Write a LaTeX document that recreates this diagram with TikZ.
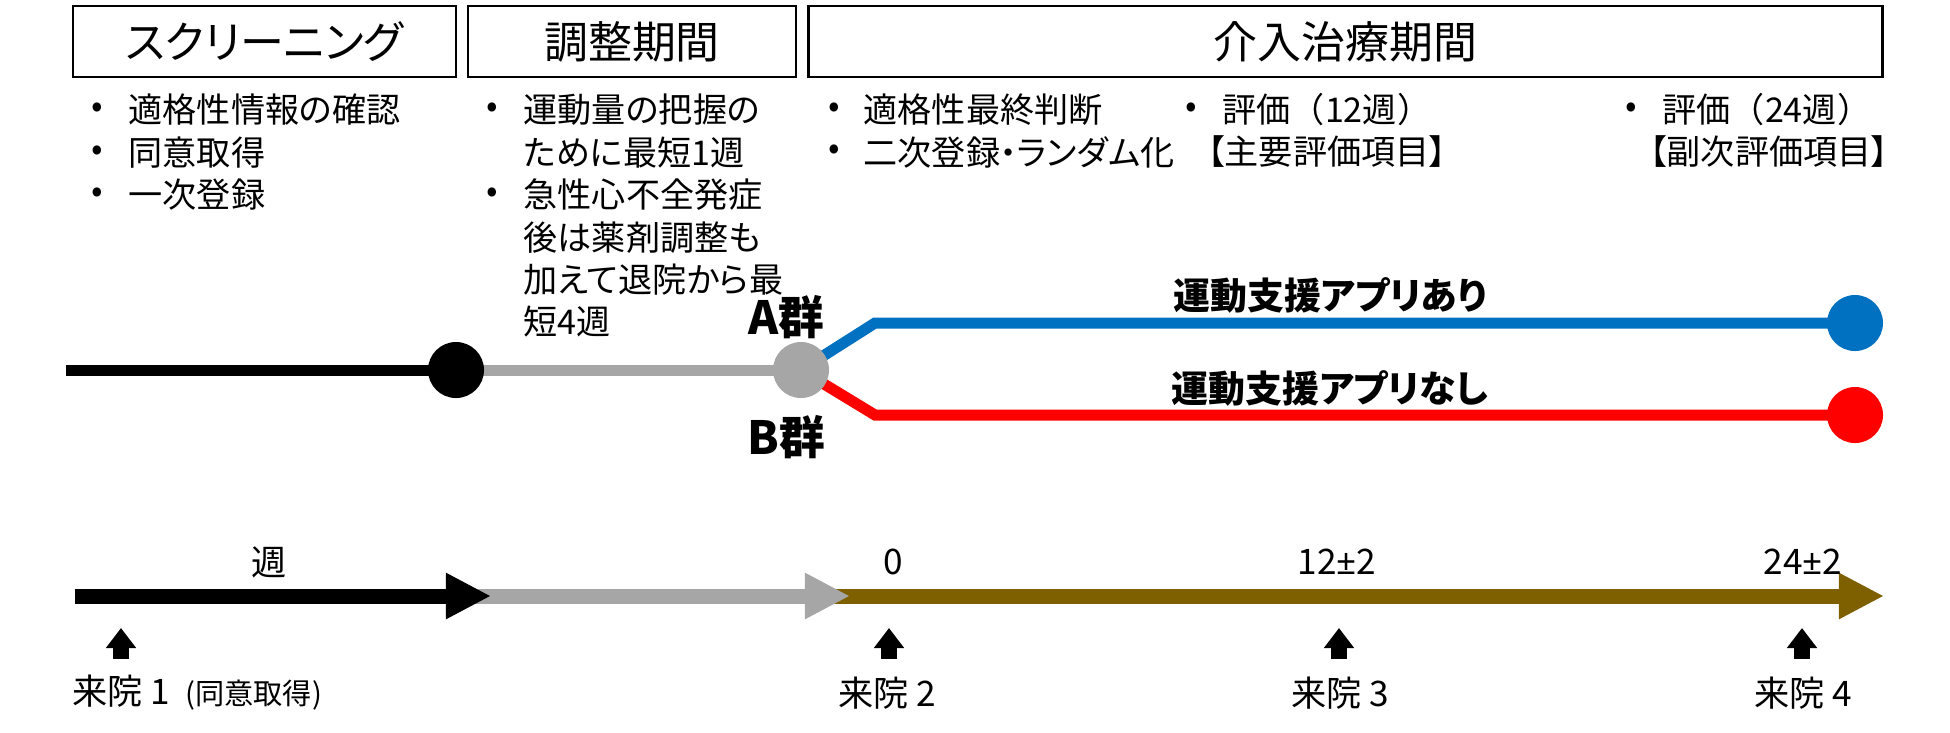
\documentclass[tikz,border=0pt]{standalone}
\usepackage{fontspec}
\setmainfont{Noto Sans CJK JP}[RawFeature=+palt]
\newfontfamily\jpfull{Noto Sans CJK JP}
\newfontfamily\latinfont{Noto Sans}
\usetikzlibrary{arrows.meta, backgrounds}
\definecolor{grpblue}{HTML}{0070C0}
\definecolor{grpred}{HTML}{FF0000}
\definecolor{prepgray}{HTML}{A6A6A6}
\definecolor{txbrown}{HTML}{7F6000}

\tikzset{
  phasebox/.style={draw, line width=0.7pt, minimum height=7.1mm, inner sep=0pt, font=\fontsize{12.5}{15}\selectfont},
  bul/.style={inner sep=0pt, font=\fontsize{9.7}{12}\selectfont},
  itemtext/.style={anchor=west, inner sep=0pt, font=\fontsize{9.7}{12}\selectfont},
  tlline/.style={line width=1.1mm},
  milestone/.style={circle, minimum size=5.6mm, inner sep=0pt},
  grplabel/.style={inner sep=0pt, font=\fontsize{13}{15}\selectfont\bfseries},
  armlabel/.style={inner sep=0pt, font=\fontsize{10.5}{12}\selectfont\bfseries},
  weektick/.style={inner sep=0pt, font=\fontsize{10}{12}\selectfont},
  weekbar/.style={line width=1.5mm, -{Triangle[length=4.5mm, width=4.3mm]}},
  visit/.style={line width=1.6mm, -{Triangle[length=2mm, width=2.9mm]}},
}

\begin{document}
\begin{tikzpicture}[x=0.01cm, y=-0.01cm]
\useasboundingbox (0,0) rectangle (1950,732);

% Phase boxes
\node[phasebox, minimum width=38.3mm] (scr) at (264.5,41.5) {スクリーニング};
\node[phasebox, minimum width=32.8mm] (adj) at (632,41.5) {調整期間};
\node[phasebox, minimum width=107.3mm] (itv) at (1345.5,41.5) {介入治療期間};

% Screening items
\node[bul] (scrb1) at (97,110) {•};
\node[itemtext] (scr1) at (128,110) {適格性情報の確認};
\node[bul] (scrb2) at (97,153) {•};
\node[itemtext] (scr2) at (128,153) {同意取得};
\node[bul] (scrb3) at (97,195) {•};
\node[itemtext] (scr3) at (128,195) {一次登録};

% Adjustment items
\node[bul] (adjb1) at (492,110) {•};
\node[itemtext] (adj1) at (523,110) {運動量の把握の};
\node[itemtext] (adj2) at (523,153) {ために最短1週};
\node[bul] (adjb2) at (492,195) {•};
\node[itemtext] (adj3) at (523,195) {急性心不全発症};
\node[itemtext] (adj4) at (523,238) {後は薬剤調整も};
\node[itemtext] (adj5) at (523,280) {加えて退院から最};
\node[itemtext] (adj6) at (523,322) {短4週};

% Intervention items
\node[bul] (itvb1) at (834,110) {•};
\node[itemtext] (itv1) at (863,110) {適格性最終判断};
\node[bul] (itvb2) at (834,152) {•};
\node[itemtext] (itv2) at (863,152) {二次登録・ランダム化};
\node[bul] (evb1) at (1191,110) {•};
\node[itemtext] (ev1) at (1222,110) {\jpfull 評価（12週）};
\node[itemtext] (ev1s) at (1207,152) {【主要評価項目】};
\node[bul] (evb2) at (1631,110) {•};
\node[itemtext] (ev2) at (1662,110) {\jpfull 評価（24週）};
\node[itemtext] (ev2s) at (1649,152) {【副次評価項目】};

% Study flow
\coordinate (flow0) at (66,370);
\node[milestone, fill=black] (m1) at (456,370) {};
\node[milestone, fill=prepgray] (m2) at (801,370) {};
\coordinate (bendA) at (875,323);
\coordinate (bendB) at (875,415);
\node[milestone, fill=grpblue] (endA) at (1855,323) {};
\node[milestone, fill=grpred] (endB) at (1855,415) {};
\begin{scope}[on background layer]
\draw[tlline] (flow0) -- (m1.center);
\draw[tlline, prepgray] (m1.center) -- (m2.center);
\draw[tlline, grpblue] (m2.center) -- (bendA) -- (endA.center);
\draw[tlline, grpred] (m2.center) -- (bendB) -- (endB.center);
\end{scope}

\node[grplabel] (grpA) at (786,317) {A群};
\node[grplabel] (grpB) at (786,437) {B群};
\node[armlabel] (armA) at (1330,295) {運動支援アプリあり};
\node[armlabel] (armB) at (1330,388) {運動支援アプリなし};

% Week axis
\coordinate (w0) at (75,596);
\coordinate (w1a) at (460,596);
\coordinate (w1) at (491,596);
\coordinate (w2a) at (820,596);
\coordinate (w2) at (850,596);
\coordinate (w3) at (1884,596);
\draw[weekbar, txbrown] (w2a) -- (w3);
\draw[weekbar, prepgray] (w1a) -- (w2);
\draw[weekbar, black] (w0) -- (w1);

\node[weektick] (wk) at (269,562) {週};
\node[weektick] (wk0) at (893,562) {0};
\node[weektick] (wk12) at (1337,562) {12{\latinfont ±}2};
\node[weektick] (wk24) at (1803,562) {24{\latinfont ±}2};

% Visits
\node[weektick, anchor=west] (v1) at (72,693) {来院 1\hspace{1.5mm}{\fontsize{8.3}{9}\selectfont (同意取得)}};
\node[weektick] (v2) at (887,693) {来院 2};
\node[weektick] (v3) at (1340,693) {来院 3};
\node[weektick] (v4) at (1803,693) {来院 4};
\coordinate (p1) at (121,659);
\coordinate (p2) at (889,659);
\coordinate (p3) at (1339,659);
\coordinate (p4) at (1802,659);
\draw[visit] (p1) -- ++(0,-31);
\draw[visit] (p2) -- ++(0,-31);
\draw[visit] (p3) -- ++(0,-31);
\draw[visit] (p4) -- ++(0,-31);

\end{tikzpicture}
\end{document}
